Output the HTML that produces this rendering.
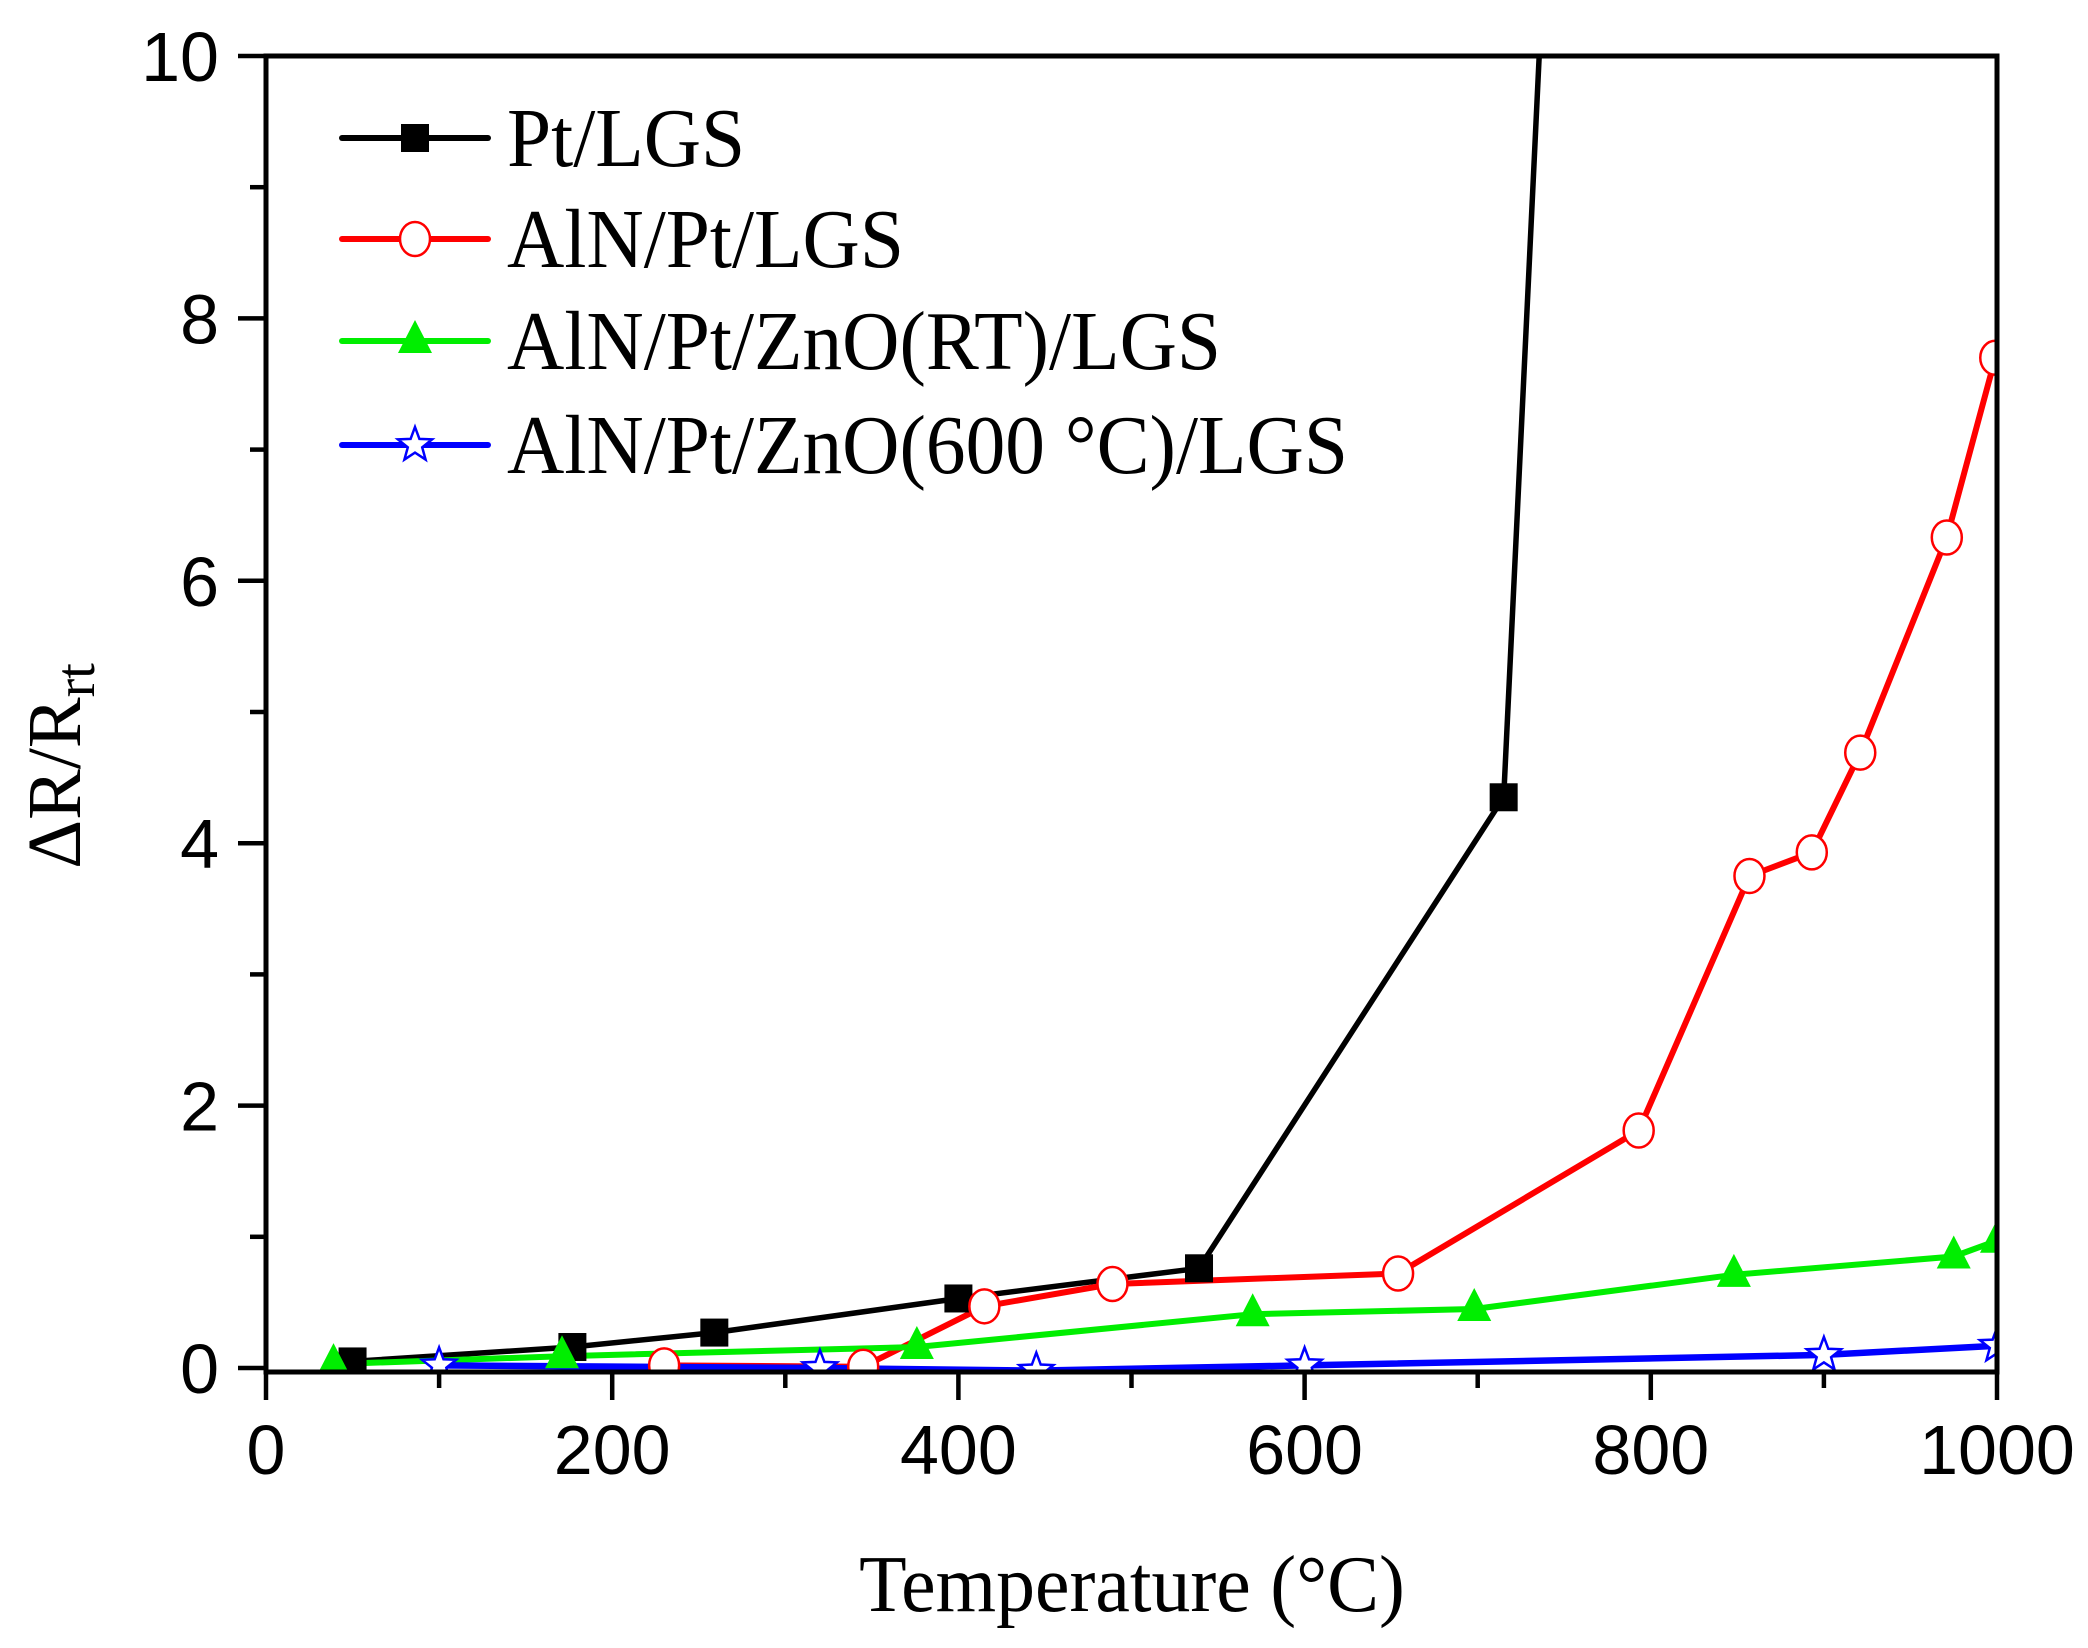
<!DOCTYPE html>
<html><head><meta charset="utf-8"><style>
html,body{margin:0;padding:0;background:#fff}
svg{display:block}
</style></head><body>
<svg id="chart" width="2088" height="1648" viewBox="0 0 2088 1648" xmlns="http://www.w3.org/2000/svg">
<defs><clipPath id="plotclip"><rect x="266" y="56" width="1731" height="1316"/></clipPath></defs>
<g id="series" clip-path="url(#plotclip)"></g>
<g id="axes"></g>
<g id="legend"></g>
<text transform="translate(1132,1611) scale(0.96,1)" text-anchor="middle" font-family="Liberation Serif, serif" font-size="81">Temperature (°C)</text>
<text transform="translate(80,766) rotate(-90)" text-anchor="middle" font-family="Liberation Serif, serif" font-size="76">ΔR/R<tspan font-size="56" dy="14">rt</tspan></text>
</svg>
<script>
const xTicks = [0, 200, 400, 600, 800, 1000];
const yTicks = [0, 2, 4, 6, 8, 10];
const ptX = [50, 177, 259, 400, 539, 715, 737];
const ptY = [0.05, 0.16, 0.27, 0.53, 0.76, 4.35, 10.4];
const alnX = [230, 345, 415, 489, 654, 793, 857, 893, 921, 971, 999];
const alnY = [0.02, 0.01, 0.47, 0.64, 0.72, 1.81, 3.75, 3.93, 4.69, 6.33, 7.7];
const rtX = [39, 171, 376, 570, 698, 848, 975, 1000];
const rtY = [0.03, 0.09, 0.16, 0.41, 0.45, 0.71, 0.85, 0.97];
const h600X = [100, 320, 445, 600, 900, 1000];
const h600Y = [0.02, 0.0, -0.02, 0.02, 0.1, 0.17];
const legendLabels = ["Pt/LGS", "AlN/Pt/LGS", "AlN/Pt/ZnO(RT)/LGS", "AlN/Pt/ZnO(600 °C)/LGS"];

const NS = "http://www.w3.org/2000/svg";
const L = 266, R = 1997, T = 56, B = 1372, Y0 = 1368;
const xs = v => L + (v - 0) / 1000 * (R - L);
const ys = v => Y0 - v / 10 * (Y0 - T);
function mk(tag, attrs, parent) {
  const e = document.createElementNS(NS, tag);
  for (const k in attrs) e.setAttribute(k, attrs[k]);
  parent.appendChild(e);
  return e;
}
const axes = document.getElementById("axes");
const series = document.getElementById("series");
const legend = document.getElementById("legend");

let frame = mk("rect", {x: L, y: T, width: R - L, height: B - T, fill: "none", stroke: "#000", "stroke-width": 5}, axes);



xTicks.forEach(v => {
  const x = xs(v);
  let t = mk("line", {x1: x, y1: B, x2: x, y2: B + 28, stroke: "#000", "stroke-width": 4.5}, axes);
  
  
  let lb = mk("text", {x: x, y: B + 102, "text-anchor": "middle", "font-family": "Liberation Sans, sans-serif", "font-size": 70}, axes);
  lb.textContent = v;
  
  
});
for (let i = 0; i < xTicks.length - 1; i++) {
  const x = xs((xTicks[i] + xTicks[i + 1]) / 2);
  let t = mk("line", {x1: x, y1: B, x2: x, y2: B + 16, stroke: "#000", "stroke-width": 4.5}, axes);
  
  
}
yTicks.forEach(v => {
  const y = ys(v);
  let t = mk("line", {x1: L - 28, y1: y, x2: L, y2: y, stroke: "#000", "stroke-width": 4.5}, axes);
  
  
  let lb = mk("text", {x: 219, y: y + 25, "text-anchor": "end", "font-family": "Liberation Sans, sans-serif", "font-size": 70}, axes);
  lb.textContent = v;
  
  
});
for (let i = 0; i < yTicks.length - 1; i++) {
  const y = ys((yTicks[i] + yTicks[i + 1]) / 2);
  let t = mk("line", {x1: L - 16, y1: y, x2: L, y2: y, stroke: "#000", "stroke-width": 4.5}, axes);
  
  
}

function starPts(cx, cy, r) {
  const p = [];
  for (let i = 0; i < 10; i++) {
    const a = -Math.PI / 2 + i * Math.PI / 5;
    const rr = i % 2 ? r * 0.42 : r;
    p.push((cx + rr * Math.cos(a)).toFixed(1) + "," + (cy + rr * Math.sin(a)).toFixed(1));
  }
  return p.join(" ");
}
function marker(type, cx, cy, color, parent) {
  let e;
  if (type === "square") e = mk("rect", {x: cx - 14, y: cy - 14, width: 28, height: 28, fill: color}, parent);
  else if (type === "circle") e = mk("ellipse", {cx: cx, cy: cy, rx: 15, ry: 17, fill: "#fff", stroke: color, "stroke-width": 2.5}, parent);
  else if (type === "triangle") e = mk("polygon", {points: `${cx},${cy - 21} ${cx + 17},${cy + 12} ${cx - 17},${cy + 12}`, fill: color}, parent);
  else e = mk("polygon", {points: starPts(cx, cy, 18), fill: "#fff", stroke: color, "stroke-width": 2.5}, parent);
  return e;
}
const defs = [
  {name: "pt-lgs", xs: ptX, ys: ptY, color: "#000", m: "square", w: 5.5},
  {name: "aln-pt-lgs", xs: alnX, ys: alnY, color: "#ff0000", m: "circle", w: 6},
  {name: "aln-pt-zno-rt-lgs", xs: rtX, ys: rtY, color: "#00ee00", m: "triangle", w: 6},
  {name: "aln-pt-zno-600-lgs", xs: h600X, ys: h600Y, color: "#0000ff", m: "star", w: 6.5}
];
defs.forEach(d => {
  const pts = d.xs.map((x, i) => xs(x).toFixed(1) + "," + ys(d.ys[i]).toFixed(1)).join(" ");
  let pl = mk("polyline", {points: pts, fill: "none", stroke: d.color, "stroke-width": d.w, "stroke-linejoin": "round"}, series);
  
  
});
defs.forEach(d => {
  d.xs.forEach((x, i) => {
    let e = marker(d.m, xs(x), ys(d.ys[i]), d.color, series);
    
    
  });
});
const legY = [138, 239, 341, 445];
defs.forEach((d, i) => {
  const y = legY[i];
  let ln = mk("line", {x1: 342, y1: y, x2: 488, y2: y, stroke: d.color, "stroke-width": 6, "stroke-linecap": "round"}, legend);
  
  
  let m = marker(d.m, 415, y, d.color, legend);
  
  
  let tx = mk("text", {transform: `translate(507,${y + 28}) scale(0.945,1)`, "font-family": "Liberation Serif, serif", "font-size": 84}, legend);
  tx.textContent = legendLabels[i];
  
  
});
</script>
</body></html>
